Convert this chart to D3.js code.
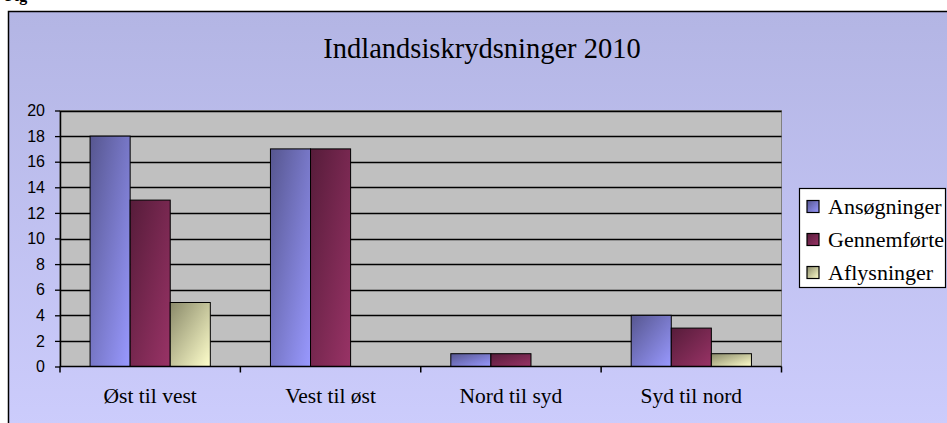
<!DOCTYPE html>
<html>
<head>
<meta charset="utf-8">
<script src="https://cdn.jsdelivr.net/npm/d3@7"></script>
<style>
  html, body { margin: 0; padding: 0; background: #ffffff; }
  svg { display: block; }
</style>
</head>
<body>
<div class="chart"></div>
<script>
// data
const categories = ["Øst til vest", "Vest til øst", "Nord til syd", "Syd til nord"];
const seriesNames = ["Ansøgninger", "Gennemførte", "Aflysninger"];
const ansogninger = [18, 17, 1, 4];
const gennemforte = [13, 17, 1, 3];
const aflysninger = [5, 0, 0, 1];
const yTicks = [0, 2, 4, 6, 8, 10, 12, 14, 16, 18, 20];

const seriesValues = [ansogninger, gennemforte, aflysninger];
const colors = ["#9999ff", "#993366", "#ffffcc"];
const darkColors = ["#56568f", "#561c3a", "#8a8a6a"];

const W = 947, H = 423;
const plot = { left: 60, top: 110.5, right: 781.5, bottom: 366.5 };

const svg = d3.select(".chart")
  .append("svg")
  .attr("width", W)
  .attr("height", H);

const defs = svg.append("defs");

// chart background gradient
const bg = defs.append("linearGradient")
  .attr("id", "bg")
  .attr("x1", 0).attr("y1", 0).attr("x2", 0).attr("y2", 1);
bg.append("stop").attr("offset", "0%").attr("stop-color", "#b3b5e4");
bg.append("stop").attr("offset", "100%").attr("stop-color", "#cdcdfd");

// one diagonal gradient per series
seriesNames.forEach((s, i) => {
  const g = defs.append("linearGradient")
    .attr("id", "grad" + i)
    .attr("x1", 0).attr("y1", 0).attr("x2", 1).attr("y2", 1);
  g.append("stop").attr("offset", "0%").attr("stop-color", darkColors[i]);
  g.append("stop").attr("offset", "100%").attr("stop-color", colors[i]);
});

// caption above the chart, cut off at the top edge like in the reference
svg.append("text")
  .attr("x", 5)
  .attr("y", 0.5)
  .style("font-family", "'Liberation Serif', 'Times New Roman', serif")
  .style("font-size", "16px")
  .style("font-weight", "bold")
  .text("Fig");

// outer chart frame
svg.append("rect")
  .attr("x", 8.5)
  .attr("y", 11.5)
  .attr("width", W + 10)
  .attr("height", H + 10)
  .attr("fill", "url(#bg)")
  .attr("stroke", "#000")
  .attr("stroke-width", 1.5);

// title
svg.append("text")
  .attr("x", 482)
  .attr("y", 58)
  .attr("text-anchor", "middle")
  .style("font-family", "'Liberation Serif', 'Times New Roman', serif")
  .style("font-size", "28.5px")
  .style("fill", "#000")
  .text("Indlandsiskrydsninger 2010");

// scales
const x0 = d3.scaleBand()
  .domain(categories)
  .range([plot.left, plot.right])
  .paddingInner(0)
  .paddingOuter(0);

const x1 = d3.scaleBand()
  .domain(seriesNames)
  .range([0, x0.bandwidth()])
  .paddingInner(0)
  .paddingOuter(0.75);

const y = d3.scaleLinear()
  .domain([0, 20])
  .range([plot.bottom, plot.top]);

// plot area
svg.append("rect")
  .attr("x", plot.left)
  .attr("y", plot.top)
  .attr("width", plot.right - plot.left)
  .attr("height", plot.bottom - plot.top)
  .attr("fill", "#c0c0c0")
  .attr("stroke", "#808080")
  .attr("stroke-width", 1);

// gridlines
svg.append("g")
  .selectAll("line")
  .data(yTicks.filter(d => d > 0))
  .join("line")
  .attr("x1", plot.left)
  .attr("x2", plot.right)
  .attr("y1", d => Math.round(y(d)) + 0.5)
  .attr("y2", d => Math.round(y(d)) + 0.5)
  .attr("stroke", "#000")
  .attr("stroke-width", 1.3);

// bars
const groups = svg.append("g")
  .selectAll("g")
  .data(categories)
  .join("g")
  .attr("transform", c => `translate(${x0(c)},0)`);

groups.selectAll("rect")
  .data((c, ci) => seriesNames.map((s, si) => ({ s, si, v: seriesValues[si][ci] })))
  .join("rect")
  .filter(d => d.v > 0)
  .attr("x", d => x1(d.s))
  .attr("y", d => y(d.v))
  .attr("width", x1.bandwidth())
  .attr("height", d => y(0) - y(d.v))
  .attr("fill", d => `url(#grad${d.si})`)
  .attr("stroke", "#000")
  .attr("stroke-width", 1);

// y axis
const yAxis = svg.append("g")
  .attr("transform", `translate(${plot.left},0)`)
  .call(d3.axisLeft(y).tickValues(yTicks).tickSize(5).tickPadding(10).tickSizeOuter(0));
yAxis.select(".domain").attr("stroke", "#000").attr("stroke-width", 1.5);
yAxis.selectAll(".tick line").attr("stroke", "#000").attr("stroke-width", 1.3);
yAxis.selectAll(".tick text")
  .style("font-family", "'Liberation Sans', Arial, sans-serif")
  .style("font-size", "16px")
  .style("fill", "#000");

// x axis: base line with ticks at category boundaries
const xAxisG = svg.append("g");
xAxisG.append("line")
  .attr("x1", plot.left)
  .attr("x2", plot.right)
  .attr("y1", plot.bottom)
  .attr("y2", plot.bottom)
  .attr("stroke", "#000")
  .attr("stroke-width", 1.5);
xAxisG.selectAll(".bt")
  .data(categories.map(c => x0(c)).concat([plot.right]))
  .join("line")
  .attr("class", "bt")
  .attr("x1", d => d)
  .attr("x2", d => d)
  .attr("y1", plot.bottom)
  .attr("y2", plot.bottom + 6)
  .attr("stroke", "#000")
  .attr("stroke-width", 1.5);
xAxisG.selectAll("text")
  .data(categories)
  .join("text")
  .attr("x", c => x0(c) + x0.bandwidth() / 2)
  .attr("y", 403)
  .attr("text-anchor", "middle")
  .style("font-family", "'Liberation Serif', 'Times New Roman', serif")
  .style("font-size", "21.5px")
  .style("fill", "#000")
  .text(c => c);

// legend
const legend = svg.append("g");
legend.append("rect")
  .attr("x", 799.5)
  .attr("y", 188.5)
  .attr("width", 146)
  .attr("height", 99)
  .attr("fill", "#fff")
  .attr("stroke", "#000")
  .attr("stroke-width", 1.2);

const legendItems = legend.selectAll("g.item")
  .data(seriesNames)
  .join("g")
  .attr("class", "item")
  .attr("transform", (d, i) => `translate(807, ${206.5 + i * 33})`);

legendItems.append("rect")
  .attr("x", 0)
  .attr("y", -6)
  .attr("width", 12)
  .attr("height", 12)
  .attr("fill", (d, i) => `url(#grad${i})`)
  .attr("stroke", "#000")
  .attr("stroke-width", 1.2);

legendItems.append("text")
  .attr("x", 21)
  .attr("y", 7.5)
  .style("font-family", "'Liberation Serif', 'Times New Roman', serif")
  .style("font-size", "22px")
  .style("fill", "#000")
  .text(d => d);
</script>
</body>
</html>
